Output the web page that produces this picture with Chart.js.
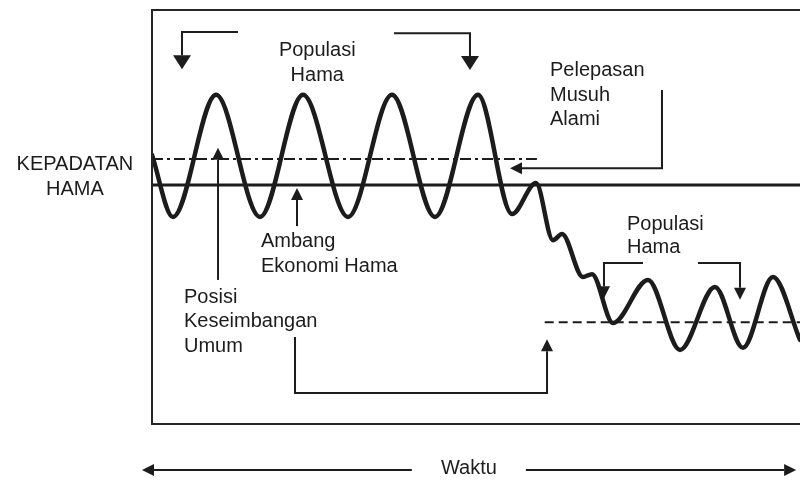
<!DOCTYPE html>
<html>
<head>
<meta charset="utf-8">
<script src="https://cdn.jsdelivr.net/npm/chart.js@4"></script>
<style>
html, body { margin: 0; padding: 0; background: #fff; }
canvas { display: block; }
</style>
</head>
<body>
<canvas id="grafikHama" width="800" height="483"></canvas>
<script>
// waktu (0-100) dan kepadatan hama (0-100)
const waktu = [0, 3.24, 9.88, 16.67, 23.30, 30.25, 37.04, 43.67, 50.31, 55.56, 59.26,
    61.88, 63.27, 66.51, 67.90, 71.14, 76.54, 81.48, 86.88, 91.20, 95.83, 100];
const kepadatan = [65.0, 50.0, 79.5, 50.0, 79.5, 50.0, 79.5, 50.0, 79.5, 50.7, 58.2,
    44.4, 45.9, 35.5, 36.2, 24.4, 34.8, 17.9, 33.1, 18.4, 35.5, 20.3];

const ambangEkonomi = 57.7;
const keseimbanganAwal = 64.0;
const keseimbanganAkhir = 24.6;
const rentangAwal = [0, 59.4];
const rentangAkhir = [60.6, 100];

// label: [teks, x, y, rata]
const label = [
    ['Populasi', 25.5, 88.9, 'center'],
    ['Hama', 25.5, 82.9, 'center'],
    ['Pelepasan', 61.42, 84.1, 'left'],
    ['Musuh', 61.42, 78.0, 'left'],
    ['Alami', 61.42, 72.2, 'left'],
    ['Ambang', 16.82, 42.8, 'left'],
    ['Ekonomi Hama', 16.82, 36.7, 'left'],
    ['Posisi', 4.94, 29.2, 'left'],
    ['Keseimbangan', 4.94, 23.4, 'left'],
    ['Umum', 4.94, 17.4, 'left'],
    ['Populasi', 73.30, 46.9, 'left'],
    ['Hama', 73.30, 41.3, 'left'],
    ['KEPADATAN', -11.9, 61.4, 'center'],
    ['HAMA', -11.9, 55.3, 'center'],
    ['Waktu', 48.9, -12.1, 'center']
];

// panah: titik-titik [x, y], ujung panah di titik terakhir
const panah = [
    [[13.27, 94.7], [4.63, 94.7], [4.63, 85.7]],
    [[37.35, 94.4], [49.07, 94.4], [49.07, 85.5]],
    [[78.70, 80.7], [78.70, 61.8], [55.25, 61.8]],
    [[22.38, 47.8], [22.38, 57.0]],
    [[10.19, 34.8], [10.19, 66.7]],
    [[22.07, 21.0], [22.07, 7.5], [60.96, 7.5], [60.96, 20.5]],
    [[75.77, 38.9], [69.75, 38.9], [69.75, 30.4]],
    [[84.26, 38.9], [90.74, 38.9], [90.74, 30.0]],
    [[40.1, -11.1], [-1.54, -11.1]],
    [[57.7, -11.1], [99.4, -11.1]]
];

const tinta = '#1c1c1c';

const anotasi = {
    id: 'anotasi',
    afterDraw(chart) {
        const {ctx, chartArea: a} = chart;
        const sx = chart.scales.x, sy = chart.scales.y;
        const px = v => sx.getPixelForValue(v);
        const py = v => sy.getPixelForValue(v);
        ctx.save();

        // kotak
        ctx.strokeStyle = '#262626';
        ctx.lineWidth = 2;
        ctx.beginPath();
        ctx.moveTo(a.right + 10, a.top);
        ctx.lineTo(a.left, a.top);
        ctx.lineTo(a.left, a.bottom);
        ctx.lineTo(a.right + 10, a.bottom);
        ctx.stroke();

        // panah (dua panah atas ujungnya lebih besar)
        ctx.strokeStyle = tinta;
        ctx.fillStyle = tinta;
        ctx.lineWidth = 2;
        panah.forEach((p, k) => {
            const pts = p.map(t => [px(t[0]), py(t[1])]);
            const n = pts.length;
            const [x1, y1] = pts[n - 2];
            const [x2, y2] = pts[n - 1];
            const ang = Math.atan2(y2 - y1, x2 - x1);
            const len = k < 2 ? 14 : 12, hw = k < 2 ? 9 : 6;
            ctx.beginPath();
            ctx.moveTo(pts[0][0], pts[0][1]);
            for (let i = 1; i < n - 1; i++) ctx.lineTo(pts[i][0], pts[i][1]);
            ctx.lineTo(x2 - Math.cos(ang) * len, y2 - Math.sin(ang) * len);
            ctx.stroke();
            ctx.beginPath();
            ctx.moveTo(x2, y2);
            ctx.lineTo(x2 - Math.cos(ang) * len - Math.sin(ang) * hw, y2 - Math.sin(ang) * len + Math.cos(ang) * hw);
            ctx.lineTo(x2 - Math.cos(ang) * len + Math.sin(ang) * hw, y2 - Math.sin(ang) * len - Math.cos(ang) * hw);
            ctx.closePath();
            ctx.fill();
        });

        // teks
        ctx.font = '20px "Liberation Sans", Arial, sans-serif';
        ctx.textBaseline = 'alphabetic';
        label.forEach(([t, x, y, rata]) => {
            ctx.textAlign = rata;
            ctx.fillText(t, px(x), py(y));
        });
        ctx.restore();
    }
};

new Chart(document.getElementById('grafikHama'), {
    type: 'line',
    data: {
        datasets: [
            {
                label: 'Ambang Ekonomi Hama',
                data: [{x: 0, y: ambangEkonomi}, {x: 100, y: ambangEkonomi}],
                borderColor: tinta,
                borderWidth: 3,
                tension: 0
            },
            {
                label: 'Posisi Keseimbangan (awal)',
                data: [{x: rentangAwal[0], y: keseimbanganAwal}, {x: rentangAwal[1], y: keseimbanganAwal}],
                borderColor: tinta,
                borderWidth: 2,
                borderDash: [11, 4, 3, 4],
                tension: 0
            },
            {
                label: 'Posisi Keseimbangan (akhir)',
                data: [{x: rentangAkhir[0], y: keseimbanganAkhir}, {x: rentangAkhir[1], y: keseimbanganAkhir}],
                borderColor: tinta,
                borderWidth: 2,
                borderDash: [9, 5],
                tension: 0
            },
            {
                label: 'Populasi Hama',
                data: waktu.map((w, i) => ({x: w, y: kepadatan[i]})),
                borderColor: tinta,
                borderWidth: 4.5,
                cubicInterpolationMode: 'monotone',
                borderCapStyle: 'round',
                borderJoinStyle: 'round'
            }
        ]
    },
    options: {
        responsive: false,
        animation: false,
        layout: {
            padding: {left: 152, top: 10, right: 0, bottom: 59}
        },
        elements: {
            point: {radius: 0}
        },
        scales: {
            x: {type: 'linear', min: 0, max: 100, display: false},
            y: {type: 'linear', min: 0, max: 100, display: false}
        },
        plugins: {
            legend: {display: false},
            tooltip: {enabled: false}
        }
    },
    plugins: [anotasi]
});
</script>
</body>
</html>
